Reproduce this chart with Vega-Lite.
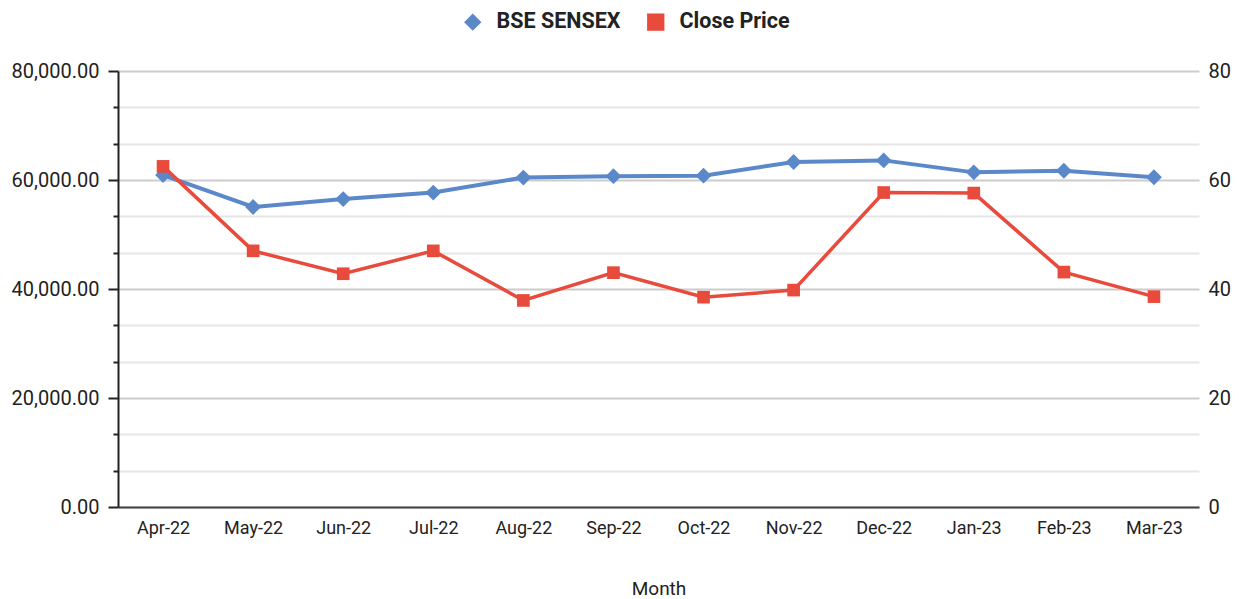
{
  "$schema": "https://vega.github.io/schema/vega-lite/v6.json",
  "autosize": {"type": "none"},
  "padding": {"left": 118, "top": 71, "right": 40, "bottom": 92},
  "width": 1081,
  "height": 436,
  "config": {
    "view": {"stroke": null},
    "font": "Roboto",
    "axis": {"labelFont": "Roboto", "labelFontSize": 18, "labelColor": "#222222", "titleFont": "Roboto", "titleFontSize": 19, "titleFontWeight": "normal", "titleColor": "#222222"},
    "legend": {"labelFont": "Roboto", "labelFontSize": 21.5, "labelFontWeight": "bold", "labelColor": "#222222"}
  },
  "data": {
    "values": [
      {"Month": "Apr-22", "Series": "BSE SENSEX", "Value": 60900},
      {"Month": "May-22", "Series": "BSE SENSEX", "Value": 55050},
      {"Month": "Jun-22", "Series": "BSE SENSEX", "Value": 56500},
      {"Month": "Jul-22", "Series": "BSE SENSEX", "Value": 57700},
      {"Month": "Aug-22", "Series": "BSE SENSEX", "Value": 60450},
      {"Month": "Sep-22", "Series": "BSE SENSEX", "Value": 60700},
      {"Month": "Oct-22", "Series": "BSE SENSEX", "Value": 60800},
      {"Month": "Nov-22", "Series": "BSE SENSEX", "Value": 63300},
      {"Month": "Dec-22", "Series": "BSE SENSEX", "Value": 63600},
      {"Month": "Jan-23", "Series": "BSE SENSEX", "Value": 61400},
      {"Month": "Feb-23", "Series": "BSE SENSEX", "Value": 61700},
      {"Month": "Mar-23", "Series": "BSE SENSEX", "Value": 60500},
      {"Month": "Apr-22", "Series": "Close Price", "Value": 62.5},
      {"Month": "May-22", "Series": "Close Price", "Value": 47.0},
      {"Month": "Jun-22", "Series": "Close Price", "Value": 42.8},
      {"Month": "Jul-22", "Series": "Close Price", "Value": 47.0},
      {"Month": "Aug-22", "Series": "Close Price", "Value": 37.9},
      {"Month": "Sep-22", "Series": "Close Price", "Value": 43.0},
      {"Month": "Oct-22", "Series": "Close Price", "Value": 38.5},
      {"Month": "Nov-22", "Series": "Close Price", "Value": 39.8},
      {"Month": "Dec-22", "Series": "Close Price", "Value": 57.7},
      {"Month": "Jan-23", "Series": "Close Price", "Value": 57.6},
      {"Month": "Feb-23", "Series": "Close Price", "Value": 43.1},
      {"Month": "Mar-23", "Series": "Close Price", "Value": 38.6}
    ]
  },
  "encoding": {
    "x": {
      "field": "Month", "type": "ordinal", "sort": null,
      "scale": {"type": "point", "padding": 0.5},
      "axis": {"labelAngle": 0, "ticks": false, "labelPadding": 12, "title": "Month", "titlePadding": 42, "domainColor": "#444444", "domainWidth": 2, "grid": false}
    },
    "color": {
      "field": "Series", "type": "nominal",
      "scale": {"domain": ["BSE SENSEX", "Close Price"], "range": ["#5b88c9", "#e84a3c"]},
      "legend": {"title": null, "orient": "none", "direction": "horizontal", "legendX": 344, "legendY": -60, "symbolSize": 300, "symbolStrokeWidth": 0, "labelOffset": 13, "columnPadding": 24, "symbolType": "diamond"}
    }
  },
  "layer": [
    {
      "transform": [{"filter": "datum.Series === 'BSE SENSEX'"}],
      "encoding": {
        "y": {
          "field": "Value", "type": "quantitative",
          "scale": {"domain": [0, 80000], "nice": false},
          "axis": {
            "orient": "left", "title": null,
            "values": [0, 6666.6667, 13333.333, 20000, 26666.667, 33333.333, 40000, 46666.667, 53333.333, 60000, 66666.667, 73333.333, 80000],
            "labelExpr": "abs(datum.value / 20000 - round(datum.value / 20000)) < 0.001 ? format(datum.value, ',.2f') : ''",
            "labelFontSize": 20,
            "domainColor": "#222222", "domainWidth": 2,
            "tickColor": "#222222", "tickWidth": 2,
            "tickSize": {"condition": {"test": "abs(datum.value / 20000 - round(datum.value / 20000)) < 0.001", "value": 10}, "value": 5},
            "labelPadding": 9,
            "grid": true,
            "gridColor": {"condition": {"test": "abs(datum.value / 20000 - round(datum.value / 20000)) < 0.001", "value": "#cccccc"}, "value": "#e6e6e6"},
            "gridWidth": 2
          }
        }
      },
      "layer": [
        {"mark": {"type": "line", "strokeWidth": 4}},
        {"mark": {"type": "point", "filled": true, "opacity": 1, "size": 250}, "encoding": {"shape": {"field": "Series", "type": "nominal", "scale": {"domain": ["BSE SENSEX", "Close Price"], "range": ["diamond", "square"]}, "legend": null}}}
      ]
    },
    {
      "transform": [{"filter": "datum.Series === 'Close Price'"}],
      "encoding": {
        "y": {
          "field": "Value", "type": "quantitative",
          "scale": {"domain": [0, 80], "nice": false},
          "axis": {"orient": "right", "title": null, "values": [0, 20, 40, 60, 80], "domain": false, "ticks": false, "grid": false, "labelPadding": 9, "labelFontSize": 20}
        }
      },
      "layer": [
        {"mark": {"type": "line", "strokeWidth": 3.5}},
        {"mark": {"type": "point", "filled": true, "opacity": 1, "size": 160}, "encoding": {"shape": {"field": "Series", "type": "nominal", "scale": {"domain": ["BSE SENSEX", "Close Price"], "range": ["diamond", "square"]}, "legend": null}}}
      ]
    }
  ],
  "resolve": {"scale": {"y": "independent"}}
}
